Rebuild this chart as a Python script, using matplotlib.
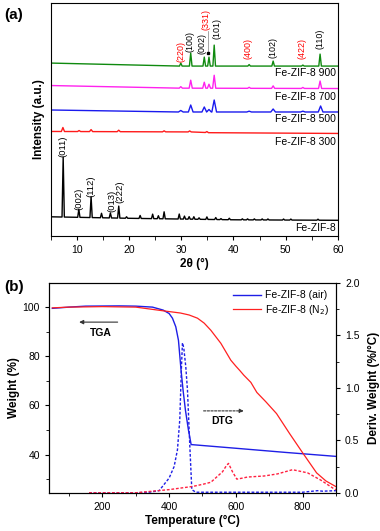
import numpy as np
import matplotlib
matplotlib.use('Agg')
import matplotlib.pyplot as plt
from matplotlib.ticker import MultipleLocator

plt.rcParams['font.family'] = ['Liberation Sans', 'DejaVu Sans']

# ---- (a) XRD data: baselines (2theta, level) and peaks (2theta, height) ----
zif_base_x = [5, 20, 40, 60]
zif_base_y = [19, 17.5, 16, 15.5]
zif_peaks = [(7.35, 60), (10.35, 8), (12.7, 21), (14.7, 4.5), (16.4, 5), (18.0, 12),
             (19.5, 1.5), (22.1, 3), (24.5, 4.5), (25.6, 3), (26.7, 7), (29.6, 5),
             (30.6, 3), (31.5, 2.5), (32.4, 2.5), (33.4, 1.5), (34.9, 2.5), (36.6, 2),
             (37.6, 1), (39.2, 1.5), (41.7, 1), (42.7, 1), (44.0, 1), (45.5, 1),
             (46.6, 1), (49.6, 1), (51.0, 1), (56.2, 1)]

s300_base_x = [5, 33, 36, 39, 55, 57, 60]
s300_base_y = [104.5, 104, 103, 101.5, 101.5, 102.5, 102.5]
s300_peaks = [(7.3, 4), (10.4, 1), (12.7, 2), (18.0, 1.5), (26.7, 1), (31.6, 1), (34.9, 1)]

s500_base_x = [5, 12, 25, 60]
s500_base_y = [126, 124.5, 124, 124]
s500_peaks = [(29.9, 1.5), (31.8, 7), (34.4, 5), (35.3, 2.5), (36.3, 12), (43.0, 0.8),
              (47.6, 3), (53.3, 0.8), (56.7, 6)]

s700_base_x = [5, 20, 60]
s700_base_y = [150.5, 148, 147.5]
s700_peaks = [(29.9, 1.5), (31.8, 8), (34.4, 6), (35.3, 4), (36.3, 13), (43.0, 1),
              (47.6, 2.5), (53.3, 1), (56.6, 7.5)]

s900_base_x = [5, 15, 60]
s900_base_y = [173, 170, 170]
s900_peaks = [(29.9, 3), (31.8, 13), (34.4, 9), (35.3, 9), (36.3, 21), (43.0, 1.5),
              (47.6, 5), (53.3, 1), (56.6, 12)]

series_names = ['Fe-ZIF-8 900', 'Fe-ZIF-8 700', 'Fe-ZIF-8 500', 'Fe-ZIF-8 300', 'Fe-ZIF-8']
series_label_y = [163, 139, 117, 94, 8]

oxide_hkl = ['(220)', '(100)', '(002)', '(331)', '(101)', '(400)', '(102)', '(422)', '(110)']
oxide_hkl_x = [29.9, 31.7, 34.0, 34.8, 36.8, 42.8, 47.5, 53.1, 56.6]
oxide_hkl_y = [174, 184, 182, 206, 197, 177, 178, 177, 187]
oxide_hkl_red = [True, False, False, True, False, True, False, True, False]

zif_hkl = ['(011)', '(002)', '(112)', '(013)', '(222)']
zif_hkl_x = [7.3, 10.4, 12.7, 16.6, 18.2]
zif_hkl_y = [79, 26, 39, 24, 33]

# ---- (b) TGA / DTG data ----
air_T = [50, 100, 150, 250, 300, 350, 382, 400, 410, 420, 428, 436, 442, 449, 458, 466, 600, 750, 900]
air_w = [99.5, 100.0, 100.4, 100.5, 100.4, 100.0, 98.8, 97.4, 95.5, 92.0, 86.5, 74, 66, 58, 50, 44.1, 42.6, 40.9, 39.3]
n2_T = [50, 100, 200, 300, 382, 434, 460, 485, 505, 525, 555, 585, 600, 612, 624, 645, 663, 690, 722, 761, 800, 842, 870, 900]
n2_w = [99.7, 100.0, 100.2, 100.0, 98.5, 97.6, 96.8, 95.5, 93.5, 90.6, 85.3, 78.4, 76, 74.2, 72.3, 69.4, 65.3, 61.5, 56.7, 48.6, 40.8, 32.6, 29.3, 27]

air_dT = [160, 300, 340, 370, 400, 415, 425, 432, 437, 440, 444, 450, 455, 462, 468, 480, 800, 830, 845, 860, 900]
air_d = [0, 0, 0.005, 0.02, 0.14, 0.25, 0.41, 0.7, 1.2, 1.43, 1.38, 1.2, 0.98, 0.45, 0.03, 0.005, 0.005, 0.015, 0.02, 0.015, 0.02]
n2_dT = [160, 300, 400, 470, 500, 525, 560, 572, 578, 590, 603, 620, 635, 685, 725, 770, 815, 855, 893, 900]
n2_d = [0, 0, 0.03, 0.06, 0.08, 0.1, 0.2, 0.26, 0.28, 0.2, 0.13, 0.14, 0.15, 0.16, 0.18, 0.22, 0.19, 0.12, 0.04, 0.03]


def pattern(bx, by, peaks, hw):
    xs = [bx[0], bx[-1]]
    for p, h in peaks:
        xs += [p - hw, p, p + hw]
    xs = np.array(sorted(xs))
    ys = np.interp(xs, bx, by)
    for p, h in peaks:
        ys[np.isclose(xs, p)] += h
    return xs, ys


fig = plt.figure(figsize=(3.8, 5.31), dpi=100)

# ================= (a) =================
ax1 = fig.add_axes([0.134, 0.556, 0.755, 0.438])
curves = [(s900_base_x, s900_base_y, s900_peaks, 0.25, '#0f8a0f'),
          (s700_base_x, s700_base_y, s700_peaks, 0.3, '#ff22ee'),
          (s500_base_x, s500_base_y, s500_peaks, 0.45, '#1a1aee'),
          (s300_base_x, s300_base_y, s300_peaks, 0.3, '#ff1a1a'),
          (zif_base_x, zif_base_y, zif_peaks, 0.22, 'black')]
for bx, by, pk, hw, c in curves:
    x, y = pattern(bx, by, pk, hw)
    ax1.plot(x, y, color=c, lw=1.0)

for name, ly in zip(series_names, series_label_y):
    ax1.text(59.6, ly, name, ha='right', va='center', fontsize=7.5)

for lab, lx, ly, red in zip(oxide_hkl, oxide_hkl_x, oxide_hkl_y, oxide_hkl_red):
    ax1.text(lx, ly, lab, rotation=90, ha='center', va='bottom', fontsize=6.4,
             color='red' if red else 'black')
ax1.plot([35.2, 35.2], [182, 205], color='gray', lw=0.5)
ax1.plot([35.2], [183], marker='s', ms=2, color='black')

for lab, lx, ly in zip(zif_hkl, zif_hkl_x, zif_hkl_y):
    ax1.text(lx, ly, lab, rotation=90, ha='center', va='bottom', fontsize=6.8)

ax1.set_xlim(5, 60)
ax1.set_ylim(0, 233)
ax1.set_yticks([])
ax1.xaxis.set_major_locator(MultipleLocator(10))
ax1.xaxis.set_minor_locator(MultipleLocator(5))
ax1.tick_params(axis='x', which='both', direction='out', length=3, labelsize=7.5, top=False)
ax1.set_xlabel('2θ (°)', fontsize=8.5, fontweight='bold', labelpad=2)
ax1.set_ylabel('Intensity (a.u.)', fontsize=8.5, fontweight='bold', labelpad=4)
fig.text(0.012, 0.972, '(a)', fontsize=11, fontweight='bold', va='center')

# ================= (b) =================
ax2 = fig.add_axes([0.129, 0.072, 0.755, 0.395])
ax2.plot(air_T, air_w, color='#1e1ee6', lw=1.0, label='Fe-ZIF-8 (air)')
ax2.plot(n2_T, n2_w, color='#ff2020', lw=0.9, label='Fe-ZIF-8 (N$_2$)')
ax2.set_xlim(40, 900)
ax2.set_ylim(24.5, 109.8)
ax2.xaxis.set_major_locator(MultipleLocator(200))
ax2.xaxis.set_minor_locator(MultipleLocator(100))
ax2.yaxis.set_major_locator(MultipleLocator(20))
ax2.yaxis.set_minor_locator(MultipleLocator(10))
ax2.tick_params(which='both', direction='out', labelsize=7.5, top=False)
ax2.tick_params(which='major', length=3)
ax2.tick_params(which='minor', length=2)
ax2.set_xlabel('Temperature (°C)', fontsize=8.5, fontweight='bold', labelpad=2)
ax2.set_ylabel('Weight (%)', fontsize=8.5, fontweight='bold', labelpad=2)
ax2.legend(loc='upper right', frameon=False, fontsize=7.5, handlelength=2.7,
           handletextpad=0.3, borderaxespad=0.3, labelspacing=0.25)

ax3 = ax2.twinx()
ax3.plot(air_dT, air_d, color='#1e1ee6', lw=1.0, ls=(0, (2, 1.3)))
ax3.plot(n2_dT, n2_d, color='#ff2040', lw=1.0, ls=(0, (2, 1.3)))
ax3.set_ylim(0, 2.0)
ax3.yaxis.set_major_locator(MultipleLocator(0.5))
ax3.yaxis.set_minor_locator(MultipleLocator(0.25))
ax3.tick_params(which='both', direction='out', labelsize=7.5)
ax3.tick_params(which='major', length=3)
ax3.tick_params(which='minor', length=2)
ax3.set_ylabel('Deriv. Weight (%/°C)', fontsize=8.5, fontweight='bold', labelpad=6)

ax2.annotate('', xy=(122, 93.9), xytext=(254, 93.9),
             arrowprops=dict(arrowstyle='-|>', color='#333333', lw=0.8, mutation_scale=6))
ax2.text(194, 89.5, 'TGA', fontsize=7.5, fontweight='bold', ha='center', va='center')
ax2.annotate('', xy=(632, 57.8), xytext=(495, 57.8),
             arrowprops=dict(arrowstyle='-|>', color='#333333', lw=0.8, ls=(0, (2, 1.3)),
                             mutation_scale=6))
ax2.text(558, 53.8, 'DTG', fontsize=7.5, fontweight='bold', ha='center', va='center')
fig.text(0.012, 0.46, '(b)', fontsize=11, fontweight='bold', va='center')

fig.savefig('out.png', dpi=100)
